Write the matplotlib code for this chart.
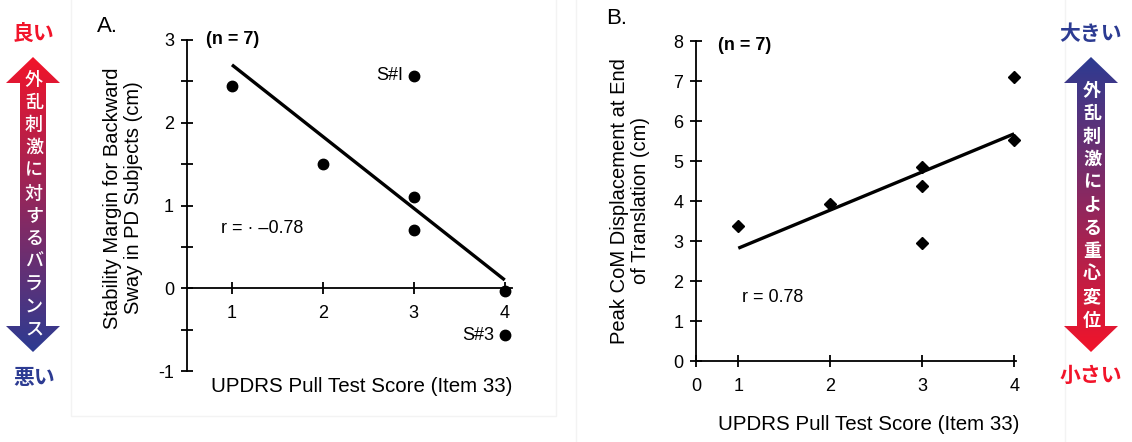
import numpy as np
import matplotlib
matplotlib.use("Agg")
import matplotlib.pyplot as plt
from matplotlib.patches import Polygon, Rectangle
from matplotlib.ticker import MultipleLocator

plt.rcParams["font.family"] = ["Liberation Sans", "DejaVu Sans"]
plt.rcParams["axes.unicode_minus"] = False

# --- data ---
score_a = [1, 2, 3, 3, 3, 4, 4]
margin_a = [2.45, 1.5, 2.57, 1.1, 0.7, -0.03, -0.57]
fit_x_a = [1, 4]
fit_y_a = [2.7, 0.1]

score_b = [1, 2, 3, 3, 3, 4, 4]
disp_b = [3.38, 3.92, 4.85, 4.38, 2.95, 7.1, 5.52]
fit_x_b = [1, 4]
fit_y_b = [2.82, 5.68]

yticks_a = [-1, 0, 1, 2, 3]
xticks_a = [1, 2, 3, 4]
yticks_b = [0, 1, 2, 3, 4, 5, 6, 7, 8]
xticks_b = [0.54, 1, 2, 3, 4]
xlabels_b = ["0", "1", "2", "3", "4"]

left_chars = "外乱刺激に対するバランス"
right_chars = "外乱刺激による重心変位"

RED = "#f2142a"
BLUE = "#2c3b92"
JP = ["Noto Sans CJK JP", "DejaVu Sans"]

W, H = 1132, 442
fig = plt.figure(figsize=(W / 100, H / 100), dpi=100)

# background overlay in pixel coords
bg = fig.add_axes([0, 0, 1, 1], zorder=0)
bg.set_xlim(0, W)
bg.set_ylim(H, 0)
bg.axis("off")

# faint panel boxes
bg.add_patch(Rectangle((71, -5), 485, 421, fill=False, ec="#f3f3f3", lw=1))
bg.add_patch(Rectangle((576, -5), 489, 460, fill=False, ec="#f3f3f3", lw=1))


def grad_arrow(ax, cx, top, bot, head_w, shaft_w, head_h, c_top, c_bot):
    pts = [
        (cx, top), (cx + head_w / 2, top + head_h), (cx + shaft_w / 2, top + head_h),
        (cx + shaft_w / 2, bot - head_h), (cx + head_w / 2, bot - head_h), (cx, bot),
        (cx - head_w / 2, bot - head_h), (cx - shaft_w / 2, bot - head_h),
        (cx - shaft_w / 2, top + head_h), (cx - head_w / 2, top + head_h),
    ]
    poly = Polygon(pts, closed=True, fc="none", ec="none")
    ax.add_patch(poly)
    c1 = np.array(matplotlib.colors.to_rgb(c_top))
    c2 = np.array(matplotlib.colors.to_rgb(c_bot))
    t = np.linspace(0, 1, 256)[:, None]
    img = (1 - t) * c1 + t * c2
    img = img[:, None, :]
    im = ax.imshow(img, extent=(cx - head_w / 2, cx + head_w / 2, bot, top),
                   aspect="auto", zorder=1, interpolation="bilinear")
    im.set_clip_path(poly)


grad_arrow(bg, 33, 57, 352, 54, 26, 26, RED, BLUE)
grad_arrow(bg, 1091, 57, 352, 54, 28, 26, BLUE, RED)
bg.set_xlim(0, W)
bg.set_ylim(H, 0)

for i, ch in enumerate(left_chars):
    bg.text(34, 80 + i * 22.7, ch, color="white", fontsize=13, family=JP,
            ha="center", va="center", zorder=2, fontweight="medium")
for i, ch in enumerate(right_chars):
    bg.text(1092, 90 + i * 23, ch, color="white", fontsize=13, family=JP,
            ha="center", va="center", zorder=2, fontweight="bold")

bg.text(34, 33, "良い", color=RED, fontsize=15, family=JP, fontweight="bold",
        ha="center", va="center")
bg.text(34, 377, "悪い", color=BLUE, fontsize=15, family=JP, fontweight="bold",
        ha="center", va="center")
bg.text(1091, 33, "大きい", color=BLUE, fontsize=15, family=JP, fontweight="bold",
        ha="center", va="center")
bg.text(1091, 375, "小さい", color=RED, fontsize=15, family=JP, fontweight="bold",
        ha="center", va="center")

bg.text(97, 27, "A.", fontsize=16, ha="left", va="center")
bg.text(606, 19, "B.", fontsize=16, ha="left", va="center")


def style_axis(ax):
    for s in ["top", "right"]:
        ax.spines[s].set_visible(False)
    for s in ["left", "bottom"]:
        ax.spines[s].set_linewidth(1.3)
    ax.patch.set_alpha(0)
    ax.tick_params(which="both", direction="inout", length=8, width=1.3,
                   labelsize=13)
    ax.tick_params(axis="x", pad=8)
    ax.tick_params(axis="y", pad=5)


# --- panel A ---
axA = fig.add_axes([186.5 / W, (H - 371) / H, 325.5 / W, 331 / H], zorder=2)
style_axis(axA)
axA.set_xlim(0.5, 4.08)
axA.set_ylim(-1, 3)
axA.spines["bottom"].set_position(("data", 0))
axA.set_xticks(xticks_a)
axA.set_yticks(yticks_a)
axA.yaxis.set_minor_locator(MultipleLocator(0.5))
axA.plot(fit_x_a, fit_y_a, color="black", lw=2.4, solid_capstyle="butt")
axA.plot(score_a, margin_a, "o", color="black", ms=7.5, clip_on=False)
axA.text(2.88, 2.57, "S#I", fontsize=13, ha="right", va="center")
axA.text(3.88, -0.57, "S#3", fontsize=13, ha="right", va="center")
axA.text(0.88, 0.72, "r = \u00b7 \u20130.78", fontsize=13, ha="left", va="center")
axA.text(0.71, 3.0, "(n = 7)", fontsize=13, fontweight="bold", ha="left", va="center")
axA.text(0.539, -0.048, "UPDRS Pull Test Score (Item 33)", fontsize=14.8,
         transform=axA.transAxes, ha="center", va="center")
axA.text(-0.195, 0.523, "Stability Margin for Backward\nSway in PD Subjects (cm)",
         fontsize=14.5, rotation=90, transform=axA.transAxes, ha="center",
         va="center", multialignment="center", linespacing=1.1)

# --- panel B ---
axB = fig.add_axes([696 / W, (H - 361) / H, 320 / W, 320 / H], zorder=2)
style_axis(axB)
axB.set_xlim(0.54, 4.02)
axB.set_ylim(0, 8)
axB.set_xticks(xticks_b)
axB.set_xticklabels(xlabels_b)
axB.set_yticks(yticks_b)
axB.plot(fit_x_b, fit_y_b, color="black", lw=2.4, solid_capstyle="butt")
axB.plot(score_b, disp_b, "D", color="black", ms=6.5, clip_on=False)
axB.text(1.04, 1.6, "r = 0.78", fontsize=13, ha="left", va="center")
axB.text(0.78, 7.9, "(n = 7)", fontsize=13, fontweight="bold", ha="left", va="center")
axB.text(0.54, -0.2, "UPDRS Pull Test Score (Item 33)", fontsize=14.8,
         transform=axB.transAxes, ha="center", va="center")
axB.text(-0.206, 0.5, "Peak CoM Displacement at End\nof Translation (cm)",
         fontsize=14.5, rotation=90, transform=axB.transAxes, ha="center",
         va="center", multialignment="center", linespacing=1.1)

fig.savefig("out.png", dpi=100)
